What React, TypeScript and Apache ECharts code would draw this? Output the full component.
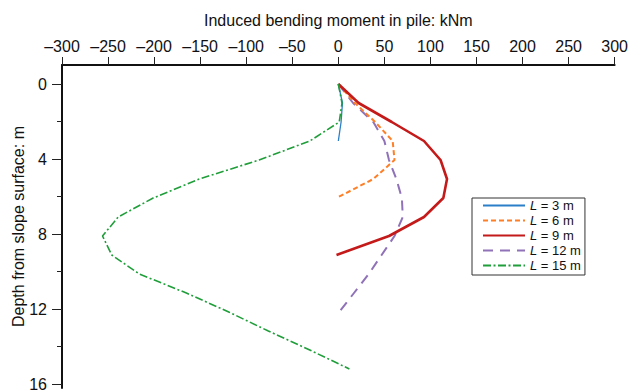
import React, { useEffect, useRef } from "react";
import * as echarts from "echarts";

// Induced bending moment (kNm) along the pile, sampled every metre of depth (m)
const depth3 = [0, 1, 2, 3];
const moment3 = [0, 4.5, 3, 0];

const depth6 = [0, 1, 2, 3, 4, 5, 6];
const moment6 = [0, 18, 40, 59, 61, 38, -2];

const depth9 = [0, 1, 2, 3, 4, 5, 6, 7, 8, 9];
const moment9 = [0, 22, 58, 93, 111, 118, 114, 93, 55, -2];

const depth12 = [0, 1, 2, 3, 4, 5, 6, 7, 8, 9, 10, 11, 12];
const moment12 = [0, 16, 38, 50, 55, 63, 69, 70, 61, 47, 33, 17, 1];

const depth15 = [0, 1, 2, 3, 4, 5, 6, 7, 8, 9, 10, 11, 12, 13, 14, 15];
const moment15 = [0, 4, 1, -31, -86, -151, -201, -239, -256, -246, -216, -165, -119, -76, -31, 12];

const pileLengths = ["3", "6", "9", "12", "15"];

const xTicks = { min: -300, max: 300, step: 50 };
const yTicks = { min: 0, max: 16, step: 4 };

const FONT = "'Liberation Sans', Arial, sans-serif";

const pairs = (xs: number[], ys: number[]) => xs.map((x, i) => [x, ys[i]]);

export default function App() {
  const ref = useRef<HTMLDivElement>(null);

  useEffect(() => {
    if (!ref.current) return;
    const chart = echarts.init(ref.current, undefined, { renderer: "svg" });

    const names = pileLengths.map((l) => `L = ${l} m`);
    const base = {
      type: "line",
      xAxisIndex: 0,
      yAxisIndex: 0,
      symbol: "none",
      silent: true,
    };

    chart.setOption({
      animation: false,
      backgroundColor: "#ffffff",
      textStyle: { fontFamily: FONT, color: "#111" },
      grid: [
        { left: 62, right: 13, top: 65, bottom: 4 },
        { left: 62, right: 13, top: 84, bottom: 4 },
      ],
      xAxis: [
        {
          type: "value",
          gridIndex: 0,
          position: "top",
          min: xTicks.min,
          max: xTicks.max,
          interval: xTicks.step,
          name: "Induced bending moment in pile: kNm",
          nameLocation: "middle",
          nameGap: 37,
          nameTextStyle: { fontSize: 16, color: "#111", fontFamily: FONT },
          axisLine: { show: true, onZero: false, lineStyle: { color: "#111", width: 2 } },
          axisTick: { show: true, inside: false, length: 8, lineStyle: { color: "#222", width: 1 } },
          axisLabel: {
            fontSize: 16,
            color: "#111",
            margin: 11,
            formatter: (v: number) => (v < 0 ? "\u2013" + Math.abs(v) : String(v)),
          },
          splitLine: { show: false },
        },
        {
          type: "value",
          gridIndex: 1,
          min: xTicks.min,
          max: xTicks.max,
          show: false,
        },
      ],
      yAxis: [
        {
          type: "value",
          gridIndex: 0,
          inverse: true,
          min: -1,
          max: yTicks.max,
          name: "Depth from slope surface: m",
          nameLocation: "middle",
          nameGap: 36,
          nameTextStyle: { fontSize: 16, color: "#111", fontFamily: FONT },
          axisLine: { show: true, onZero: false, lineStyle: { color: "#111", width: 2 } },
          axisTick: { show: false },
          axisLabel: { show: false },
          splitLine: { show: false },
        },
        {
          type: "value",
          gridIndex: 1,
          inverse: true,
          min: yTicks.min,
          max: yTicks.max,
          interval: yTicks.step,
          axisLine: { show: false, onZero: false },
          axisTick: { show: true, length: 10, lineStyle: { color: "#222", width: 1 } },
          minorTick: { show: true, splitNumber: 2, length: 5, lineStyle: { color: "#222", width: 1 } },
          axisLabel: { fontSize: 16, color: "#111", margin: 15 },
          splitLine: { show: false },
        },
      ],
      legend: {
        orient: "vertical",
        left: 472,
        top: 198,
        padding: [1, 4, 3, 10],
        itemGap: 2,
        itemWidth: 42,
        itemHeight: 12,
        borderColor: "#333",
        borderWidth: 1,
        backgroundColor: "#fff",
        data: names,
        itemStyle: { opacity: 0 },
        formatter: (n: string) => `{i|L}${n.slice(1)}`,
        textStyle: {
          fontSize: 13,
          color: "#111",
          lineHeight: 12,
          fontFamily: FONT,
          rich: { i: { fontStyle: "italic", fontSize: 13, lineHeight: 12, fontFamily: FONT } },
        },
      },
      series: [
        {
          ...base,
          name: names[0],
          data: pairs(moment3, depth3),
          lineStyle: { color: "#2b7fc8", width: 1.3, type: "solid" },
          itemStyle: { color: "#2b7fc8" },
          z: 5,
        },
        {
          ...base,
          name: names[1],
          data: pairs(moment6, depth6),
          lineStyle: { color: "#ff7f27", width: 2, type: [5, 3] },
          itemStyle: { color: "#ff7f27" },
          z: 3,
        },
        {
          ...base,
          name: names[2],
          data: pairs(moment9, depth9),
          lineStyle: { color: "#c41a1a", width: 2.6, type: "solid" },
          itemStyle: { color: "#c41a1a" },
          z: 4,
        },
        {
          ...base,
          name: names[3],
          data: pairs(moment12, depth12),
          lineStyle: { color: "#8f72b8", width: 2, type: [10, 7] },
          itemStyle: { color: "#8f72b8" },
          z: 2,
        },
        {
          ...base,
          name: names[4],
          data: pairs(moment15, depth15),
          lineStyle: { color: "#1f9e3a", width: 1.6, type: [8, 2.5, 2, 2.5] },
          itemStyle: { color: "#1f9e3a" },
          z: 6,
        },
      ],
    });

    return () => chart.dispose();
  }, []);

  return (
    <div
      ref={ref}
      style={{ position: "fixed", left: 0, top: 0, width: 631, height: 392 }}
    />
  );
}
